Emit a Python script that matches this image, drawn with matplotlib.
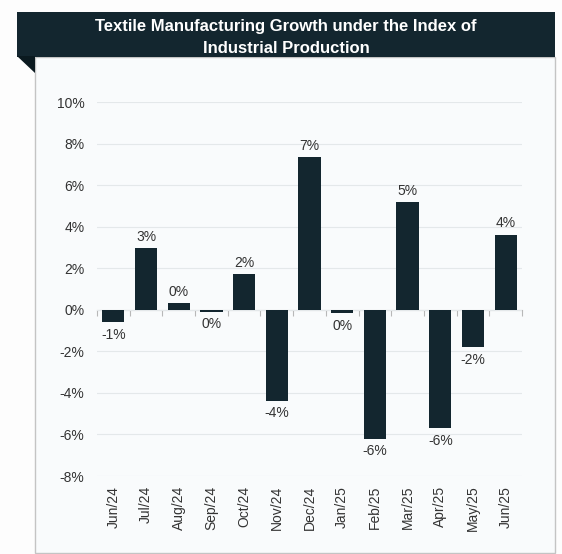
import numpy as np
import matplotlib.pyplot as plt
from matplotlib.patches import Rectangle, Polygon

# Variação mensal da produção têxtil (IIP), em %
months = ["Jun/24", "Jul/24", "Aug/24", "Sep/24", "Oct/24", "Nov/24", "Dec/24",
          "Jan/25", "Feb/25", "Mar/25", "Apr/25", "May/25", "Jun/25"]
growth = [-0.61, 2.98, 0.32, -0.10, 1.72, -4.38, 7.33,
          -0.16, -6.20, 5.20, -5.69, -1.80, 3.62]
yticks = [-8, -6, -4, -2, 0, 2, 4, 6, 8, 10]

title = "Textile Manufacturing Growth under the Index of\nIndustrial Production"

DARK = "#13262f"
TEXT = "#333333"

plt.rcParams["font.family"] = ["Liberation Sans", "DejaVu Sans"]

W, H = 562, 554
fig = plt.figure(figsize=(W / 100, H / 100), dpi=100, facecolor="#fdfdfd")


def fx(px):
    return px / W


def fy(py):
    return 1 - py / H


# cartão branco + faixa do título (atrás dos eixos)
fig.patches.append(Rectangle((fx(35), fy(553)), fx(555) - fx(35), fy(57) - fy(553),
                             transform=fig.transFigure, facecolor="#f9fbfc",
                             edgecolor="#c4c4c4", lw=1.0, zorder=-3))
fig.patches.append(Rectangle((fx(17), fy(57)), fx(555) - fx(17), fy(12) - fy(57),
                             transform=fig.transFigure, facecolor=DARK,
                             edgecolor="none", zorder=-2))
fig.patches.append(Polygon([(fx(17), fy(56)), (fx(35), fy(56)), (fx(35), fy(73))],
                           closed=True, transform=fig.transFigure,
                           facecolor="#0b1a20", edgecolor="none", zorder=-2))
fig.text(fx(286), fy(37.5), title, color="white", fontsize=12, fontweight="bold",
         ha="center", va="center", linespacing=1.6)

# eixo principal
ax = fig.add_axes([fx(97), fy(476), fx(522) - fx(97), fy(102) - fy(476)], zorder=2)
ax.set_facecolor("none")
x = np.arange(len(months))
bars = ax.bar(x, growth, width=0.68, color=DARK, zorder=3)

ax.set_xlim(-0.5, len(months) - 0.5)
ax.set_ylim(-8, 10)
ax.set_yticks(yticks)
ax.set_yticklabels([f"{v}%" for v in yticks], fontsize=10, color=TEXT)
ax.tick_params(axis="y", length=0, pad=9)
ax.yaxis.grid(True, color="#e4e8ea", lw=0.8, zorder=0)
ax.set_axisbelow(True)

ax.set_xticks(x)
ax.set_xticklabels(months, rotation=90, fontsize=10, color=TEXT, va="top")
ax.tick_params(axis="x", length=0, pad=7)
for s in ax.spines.values():
    s.set_visible(False)

# linha do zero com marcas entre categorias
ymin, ymax = ax.get_ylim()
zero_ax = ax.secondary_xaxis((0 - ymin) / (ymax - ymin))
zero_ax.spines["bottom"].set_color("#b8b8b8")
zero_ax.spines["bottom"].set_linewidth(0.8)
zero_ax.set_xticks(np.arange(len(months) + 1) - 0.5)
zero_ax.set_xticklabels([])
zero_ax.tick_params(axis="x", direction="out", length=4, width=0.8, color="#b8b8b8")

# rótulos de valor
for rect, v in zip(bars, growth):
    lbl = f"{int(round(v))}%"
    cx = rect.get_x() + rect.get_width() / 2
    if v >= 0:
        ax.annotate(lbl, (cx, v), xytext=(0, 3), textcoords="offset points",
                    ha="center", va="bottom", fontsize=10, color=TEXT)
    else:
        ax.annotate(lbl, (cx, v), xytext=(0, -4), textcoords="offset points",
                    ha="center", va="top", fontsize=10, color=TEXT)

fig.savefig("out.png", dpi=100, facecolor=fig.get_facecolor())
